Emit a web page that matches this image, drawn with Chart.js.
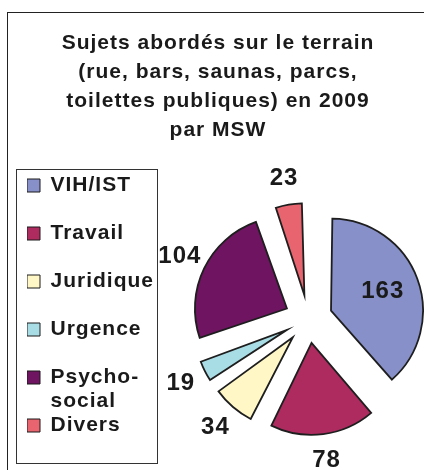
<!DOCTYPE html>
<html>
<head>
<meta charset="utf-8">
<script src="https://cdn.jsdelivr.net/npm/chart.js@4.4.1/dist/chart.umd.min.js"></script>
<style>
  html, body { margin: 0; padding: 0; background: #fff; }
  #wrap { position: relative; width: 424px; height: 470px; overflow: hidden; }
  #frame { position: absolute; left: 7px; top: 12px; width: 480px; height: 500px; border: 1.5px solid #222; }
  #chart { position: absolute; left: 0; top: 0; }
</style>
</head>
<body>
<div id="wrap">
  <div id="frame"></div>
  <canvas id="chart" width="424" height="470"></canvas>
</div>
<script>
// Data
const categories = ['VIH/IST', 'Travail', 'Juridique', 'Urgence', ['Psycho-', 'social'], 'Divers'];
const counts = [163, 78, 34, 19, 104, 23];
const sliceColors = ['#8790c8', '#ad2b5f', '#fff8c6', '#a9dde6', '#6e1460', '#e8646f'];
const titleLines = ['Sujets abordés sur le terrain', '(rue, bars, saunas, parcs,', 'toilettes publiques) en 2009', 'par MSW'];

const FONT = "'Liberation Sans', Arial, sans-serif";
const INK = '#1a1a1a';
const EXPLODE = 96;   // arc offset option (drawn shift is a quarter of it)

const baseLabels = Chart.overrides.doughnut.plugins.legend.labels.generateLabels;

// wide-ish lettering like the original
const letterSpacing = {
    id: 'letterSpacing',
    beforeLayout(chart) { chart.ctx.letterSpacing = '1px'; },
    beforeDraw(chart) { chart.ctx.letterSpacing = '1px'; }
};

// empty box between the legend and the pie
const legendGap = {
    id: 'legendGap',
    beforeInit(chart) {
        Chart.layouts.addBox(chart, {
            position: 'left',
            weight: 0,
            fullSize: false,
            options: { display: false },
            isHorizontal() { return false; },
            update(maxWidth, maxHeight) { this.width = 44; this.height = maxHeight; },
            draw() {}
        });
    }
};

// keep every exploded slice at the same radius
const evenRadius = {
    id: 'evenRadius',
    afterDatasetsUpdate(chart) {
        const meta = chart.getDatasetMeta(0);
        const R = meta.controller.outerRadius;
        meta.data.forEach(arc => {
            const shift = (arc.options.offset || 0) / 4;
            const fix = 1 - Math.sin(Math.min(Math.PI, arc.circumference));
            arc.outerRadius = R - shift * fix;
        });
    }
};

// value labels, biggest slice inside, others outside
const valueLabels = {
    id: 'valueLabels',
    afterDatasetsDraw(chart) {
        const ctx = chart.ctx;
        const meta = chart.getDatasetMeta(0);
        const R = meta.controller.outerRadius;
        const biggest = Math.max(...counts);
        ctx.save();
        ctx.font = 'bold 24px ' + FONT;
        ctx.fillStyle = INK;
        ctx.textAlign = 'center';
        ctx.textBaseline = 'middle';
        meta.data.forEach((arc, i) => {
            const mid = (arc.startAngle + arc.endAngle) / 2;
            const shift = (arc.options.offset || 0) / 4;
            const dist = counts[i] === biggest ? R * 0.86 : R + shift + 27;
            ctx.fillText(String(counts[i]), arc.x + Math.cos(mid) * dist, arc.y + Math.sin(mid) * dist);
        });
        ctx.restore();
    }
};

// thin frame round the legend
const legendFrame = {
    id: 'legendFrame',
    afterDraw(chart) {
        const lg = chart.legend;
        const boxes = lg.legendHitBoxes;
        if (!boxes || !boxes.length) return;
        const last = boxes[boxes.length - 1];
        const x0 = boxes[0].left - 11;
        const y0 = boxes[0].top - 6;
        const x1 = lg.left + lg.width - 7;
        const y1 = last.top + last.height;
        const ctx = chart.ctx;
        ctx.save();
        ctx.strokeStyle = '#333';
        ctx.lineWidth = 1;
        ctx.strokeRect(Math.round(x0) + 0.5, Math.round(y0) + 0.5, Math.round(x1 - x0), Math.round(y1 - y0));
        ctx.restore();
    }
};

new Chart(document.getElementById('chart'), {
    type: 'pie',
    data: {
        labels: categories,
        datasets: [{
            data: counts,
            backgroundColor: sliceColors,
            borderColor: '#1e1e1e',
            borderWidth: 1.8,
            borderJoinStyle: 'miter',
            offset: EXPLODE
        }]
    },
    options: {
        responsive: false,
        animation: false,
        radius: 92,
        layout: { padding: { left: 27, right: 15, top: 0, bottom: 0 } },
        plugins: {
            title: {
                display: true,
                text: titleLines,
                color: INK,
                font: { family: FONT, size: 21, weight: 'bold', lineHeight: '29px' },
                padding: { top: 28.5, bottom: 23.5 }
            },
            legend: {
                position: 'left',
                align: 'center',
                fullSize: false,
                labels: {
                    boxWidth: 13,
                    boxHeight: 13,
                    padding: 0,
                    color: INK,
                    font: { family: FONT, size: 21, weight: 'bold', lineHeight: '24px' },
                    generateLabels(chart) {
                        return baseLabels(chart).map(item => Object.assign(item, {
                            text: Array.isArray(item.text) ? item.text : [item.text, ''],
                            lineWidth: 1,
                            strokeStyle: INK
                        }));
                    }
                }
            },
            tooltip: { enabled: false }
        }
    },
    plugins: [letterSpacing, legendGap, evenRadius, valueLabels, legendFrame]
});
</script>
</body>
</html>
